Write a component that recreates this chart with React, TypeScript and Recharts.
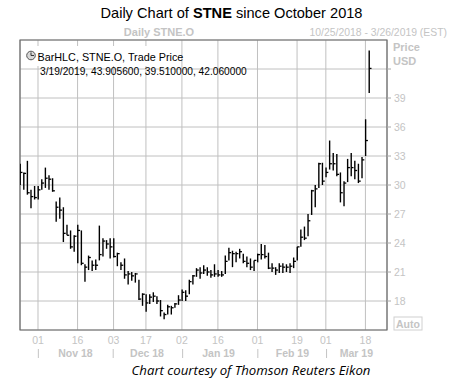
import { ComposedChart, Bar, XAxis, YAxis, CartesianGrid, ReferenceArea } from "recharts";

// daily HLC, 10/25/2018 .. 3/19/2019 (index = trading day)
const highs = [
  32.2, 31.3, 32.5, 29.5, 29.9, 29.9, 30.6, 31.8, 31.0, 30.7,
  28.3, 28.7, 27.7, 25.9, 25.3, 24.8, 25.9, 25.3, 21.8, 22.7,
  22.2, 22.3, 25.8, 24.5, 24.3, 24.5, 24.5, 23.0, 22.0, 22.4,
  21.1, 21.0, 20.9, 20.2, 18.8, 18.7, 18.7, 18.9, 18.5, 18.1,
  16.8, 17.6, 17.5, 17.8, 18.6, 19.2, 19.1, 20.2, 20.7, 21.4,
  21.5, 21.7, 21.5, 21.2, 21.8, 21.2, 21.1, 22.7, 23.5, 23.2,
  23.1, 23.4, 22.9, 22.6, 22.4, 22.2, 22.9, 23.9, 23.8, 23.0,
  21.9, 21.5, 21.9, 21.9, 21.8, 21.9, 22.5, 23.6, 25.4, 25.7,
  27.0, 29.5, 30.0, 32.3, 32.3, 31.8, 34.6, 33.3, 33.2, 31.3,
  30.4, 32.7, 33.3, 32.5, 32.2, 32.9, 36.8, 43.9056,
];
const lows = [
  30.0, 29.5, 29.0, 27.6, 28.5, 28.5, 29.5, 29.7, 29.5, 29.3,
  26.2, 26.5, 24.1, 24.8, 23.4, 23.1, 21.9, 21.7, 20.0, 21.2,
  21.1, 21.2, 22.2, 22.6, 23.4, 22.4, 22.5, 21.6, 21.2, 20.3,
  19.7, 20.1, 19.9, 18.1, 17.5, 16.9, 17.7, 17.9, 17.7, 16.4,
  16.1, 16.6, 16.6, 17.3, 17.6, 18.0, 18.0, 18.7, 19.7, 20.5,
  20.3, 20.8, 20.6, 20.4, 20.5, 20.5, 20.5, 20.8, 22.2, 21.5,
  22.0, 22.4, 21.9, 21.5, 21.2, 21.1, 22.0, 22.3, 22.4, 21.3,
  21.0, 20.7, 20.9, 20.9, 21.0, 20.9, 21.4, 22.2, 23.6, 24.3,
  24.7, 26.9, 27.7, 29.7, 30.0, 30.8, 31.6, 31.5, 30.9, 28.2,
  27.8, 30.3, 30.9, 30.6, 30.2, 30.7, 33.0, 39.51,
];
const closes = [
  31.3, 31.2, 29.2, 28.8, 28.7, 29.5, 30.2, 30.7, 30.6, 29.4,
  27.7, 27.4, 25.0, 24.8, 23.6, 24.7, 25.3, 21.9, 21.5, 22.5,
  21.7, 21.7, 22.8, 24.2, 23.9, 23.6, 22.6, 22.9, 21.7, 20.7,
  20.8, 20.6, 20.8, 18.2, 18.7, 17.8, 18.4, 18.5, 18.0, 17.0,
  16.6, 17.4, 17.3, 17.7, 18.1, 18.9, 18.5, 20.0, 20.6, 21.2,
  20.9, 21.2, 21.0, 20.7, 20.8, 20.7, 20.7, 22.1, 23.0, 22.9,
  22.9, 23.1, 22.1, 21.9, 21.5, 22.2, 22.8, 22.8, 22.6, 21.4,
  21.4, 21.2, 21.6, 21.5, 21.5, 21.6, 22.1, 23.6, 24.6, 24.5,
  26.3, 29.4, 29.6, 32.2, 30.4, 31.3, 32.2, 32.2, 31.1, 29.2,
  30.2, 31.8, 31.8, 31.5, 30.4, 32.6, 34.6, 42.06,
];

const lastDay = 102; // 3/26/2019
const dayTickIdx = [5, 16, 26, 35, 45, 55, 66, 77, 85, 96];
const dayTickLabels = ["01", "16", "03", "17", "02", "16", "01", "19", "01", "18"];
const monthSepIdx = [5.1, 25.9, 45.2, 66.1, 85.2];
const monthLabelIdx = [15.4, 35.3, 55.2, 75.7, 93.5];
const monthLabels = ["Nov 18", "Dec 18", "Jan 19", "Feb 19", "Mar 19"];
const priceTicks = [18, 21, 24, 27, 30, 33, 36, 39, 42];

const data = highs.map((h, i) => ({ i, high: h, low: lows[i], close: closes[i] }));

const GREY = "#c4c4c4";
const FONT = "'Liberation Sans', Arial, sans-serif";

const HLCBar = (props: any) => {
  const { x, y, width, height, payload } = props;
  if (x == null || y == null) return null;
  const cx = x + width / 2;
  const top = Math.min(y, y + height);
  const bottom = Math.max(y, y + height);
  const span = payload.high - payload.low || 1;
  const cy = top + ((bottom - top) * (payload.high - payload.close)) / span;
  return (
    <g>
      <line x1={cx} x2={cx} y1={top} y2={bottom} stroke="#000" strokeWidth={1.4} />
      <line x1={cx} x2={cx + 2.3} y1={cy} y2={cy} stroke="#000" strokeWidth={1.3} />
    </g>
  );
};

const DayTick = (props: any) => {
  const { x, y, payload } = props;
  const k = dayTickIdx.indexOf(payload.value);
  return (
    <text x={x} y={y + 14} textAnchor="middle" fill={GREY} fontSize={10.5} fontFamily={FONT}>
      {k >= 0 ? dayTickLabels[k] : ""}
    </text>
  );
};

const MonthTick = (props: any) => {
  const { x, y, payload } = props;
  const k = monthLabelIdx.indexOf(payload.value);
  if (k >= 0) {
    return (
      <text x={x} y={y + 11} textAnchor="middle" fill={GREY} fontSize={10.5} fontWeight="bold" fontFamily={FONT}>
        {monthLabels[k]}
      </text>
    );
  }
  return <line x1={x} x2={x} y1={y + 3} y2={y + 12} stroke={GREY} strokeWidth={1} />;
};

const PriceTick = (props: any) => {
  const { x, y, payload } = props;
  if (payload.value === 42) return null;
  return (
    <text x={x} y={y + 4} textAnchor="start" fill={GREY} fontSize={10.5} fontFamily={FONT}>
      {payload.value}
    </text>
  );
};

export default function App() {
  return (
    <div style={{ position: "absolute", left: 0, top: 0, width: 455, height: 386, background: "#fff" }}>
      <ComposedChart
        width={455}
        height={386}
        data={data}
        margin={{ top: 40, right: 38, bottom: 26, left: 20 }}
      >
        <CartesianGrid stroke="#c0c0c0" strokeWidth={1} />
        <XAxis
          dataKey="i"
          type="number"
          domain={[0, lastDay]}
          ticks={dayTickIdx}
          allowDataOverflow
          axisLine={false}
          tickLine={false}
          tickSize={0}
          tickMargin={0}
          height={16}
          tick={<DayTick />}
          interval={0}
        />
        <XAxis
          xAxisId="m"
          dataKey="i"
          type="number"
          domain={[0, lastDay]}
          ticks={[...monthSepIdx, ...monthLabelIdx].sort((a, b) => a - b)}
          allowDataOverflow
          axisLine={false}
          tickLine={false}
          tickSize={0}
          tickMargin={0}
          height={14}
          tick={<MonthTick />}
          interval={0}
        />
        <YAxis
          orientation="right"
          type="number"
          domain={[15, 45]}
          ticks={priceTicks}
          allowDataOverflow
          axisLine={false}
          tickLine={{ stroke: "#a8a8a8" }}
          tickSize={4}
          tickMargin={3}
          width={30}
          tick={<PriceTick />}
          interval={0}
        />
        <Bar
          dataKey={(d: any) => [d.low, d.high]}
          barSize={2}
          shape={<HLCBar />}
          isAnimationActive={false}
        />
        <ReferenceArea x1={0} x2={lastDay} y1={15} y2={45} fill="none" stroke="#6a6a6a" strokeWidth={1.2} />
      </ComposedChart>

      <svg width={455} height={386} style={{ position: "absolute", left: 0, top: 0, pointerEvents: "none" }}>
        <text x={231.5} y={17.5} textAnchor="middle" fontSize={14.6} fontFamily={FONT} fill="#000">
          Daily Chart of <tspan fontWeight="bold">STNE</tspan> since October 2018
        </text>
        <text x={159} y={36} textAnchor="middle" fontSize={11} fontWeight="bold" fontFamily={FONT} fill={GREY}>
          Daily STNE.O
        </text>
        <text x={447} y={36} textAnchor="end" fontSize={10.4} fontFamily={FONT} fill={GREY}>
          10/25/2018 - 3/26/2019 (EST)
        </text>
        <text x={393} y={50.5} fontSize={11} fontWeight="bold" fontFamily={FONT} fill={GREY}>Price</text>
        <text x={393} y={65} fontSize={11} fontWeight="bold" fontFamily={FONT} fill={GREY}>USD</text>

        <rect x={24} y={46} width={156} height={20} fill="#fff" />
        <circle cx={31} cy={55.5} r={4.3} fill="#d8d8d8" stroke="#555" strokeWidth={1} />
        <line x1={31} x2={31} y1={52.5} y2={55.5} stroke="#333" strokeWidth={1} />
        <line x1={31} x2={34} y1={55.5} y2={55.5} stroke="#333" strokeWidth={1} />
        <text x={37.5} y={60.5} fontSize={10.8} fontFamily={FONT} fill="#000">BarHLC, STNE.O, Trade Price</text>
        <text x={40} y={75} fontSize={10.2} fontFamily={FONT} fill="#000">
          3/19/2019, 43.905600, 39.510000, 42.060000
        </text>

        <rect x={394} y={317} width={28} height={13} fill="#fff" stroke="#d0d0d0" strokeWidth={1} />
        <text x={408} y={327.5} textAnchor="middle" fontSize={10.5} fontWeight="bold" fontFamily={FONT} fill={GREY}>
          Auto
        </text>

        <text x={251} y={375} textAnchor="middle" fontSize={13.2} fontStyle="italic" fontFamily="'Open Sans', sans-serif" fill="#000">
          Chart courtesy of Thomson Reuters Eikon
        </text>
      </svg>
    </div>
  );
}
